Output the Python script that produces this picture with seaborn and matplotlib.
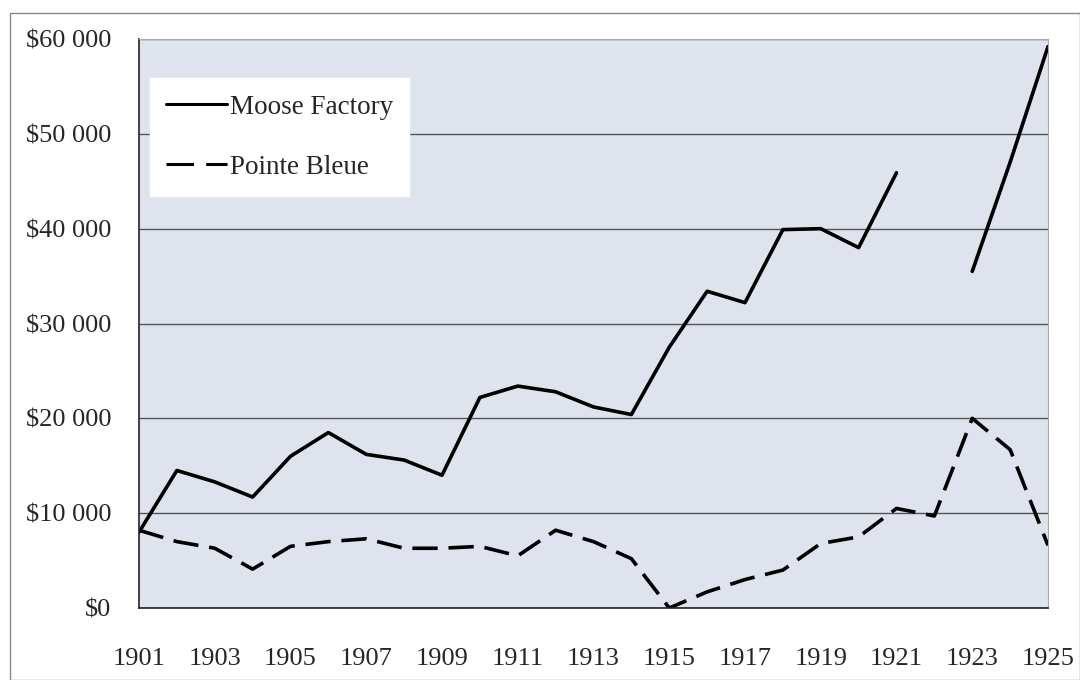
import numpy as np
import pandas as pd
import matplotlib
matplotlib.use('Agg')
import matplotlib.pyplot as plt
from matplotlib.ticker import FuncFormatter, MultipleLocator
from matplotlib.patches import Rectangle
from matplotlib.lines import Line2D
import seaborn as sns

years = list(range(1901, 1926))
moose_factory = [8000, 14500, 13300, 11700, 16000, 18500, 16200, 15600, 14000, 22200,
                 23400, 22800, 21200, 20400, 27500, 33400, 32200, 39900, 40000, 38000,
                 45900, np.nan, 35500, 47000, 59200]
pointe_bleue = [8200, 7000, 6300, 4100, 6500, 7000, 7300, 6300, 6300, 6500,
                5500, 8200, 7000, 5200, 0, 1700, 3000, 4000, 6800, 7500,
                10500, 9700, 20000, 16700, 6600]

# long form, with a segment id so the gap in 1922 stays a gap
rows = []
seg = 0
for name, vals in [('Moose Factory', moose_factory), ('Pointe Bleue', pointe_bleue)]:
    seg += 1
    for y, v in zip(years, vals):
        if np.isnan(v):
            seg += 1
            continue
        rows.append((y, v, name, seg))
df = pd.DataFrame(rows, columns=['year', 'value', 'series', 'segment'])

sns.set_style('white')
plt.rcParams['font.family'] = ['Liberation Serif', 'DejaVu Serif']
plt.rcParams['font.size'] = 19

fig = plt.figure(figsize=(10.8, 6.8), dpi=100)
ax = fig.add_axes([139 / 1080, 1 - 608 / 680, (1048 - 139) / 1080, (608 - 39) / 680])
ax.set_facecolor('#dee3ed')

sns.lineplot(data=df, x='year', y='value', style='series', units='segment',
             estimator=None, color='black', linewidth=2.6,
             dashes={'Moose Factory': '', 'Pointe Bleue': (7, 3)},
             legend=False, ax=ax)

ax.set_xlim(1901, 1925)
ax.set_ylim(0, 60000)
ax.yaxis.set_major_locator(MultipleLocator(10000))
ax.yaxis.set_major_formatter(FuncFormatter(
    lambda v, p: '$0' if v == 0 else '$' + format(int(v), ',').replace(',', ' ')))
ax.set_xticks(years)
ax.set_xticklabels([str(y) if (y - 1901) % 2 == 0 else '' for y in years])
ax.grid(axis='y', color='#555555', linewidth=1.0)
ax.set_axisbelow(True)
ax.tick_params(axis='both', direction='out', length=7, width=1, color='#333333',
               labelsize=19)
ax.tick_params(axis='y', pad=13)
ax.tick_params(axis='x', pad=22)
ax.set_xlabel('')
ax.set_ylabel('')
for s in ['left', 'bottom']:
    ax.spines[s].set_color('#222222')
    ax.spines[s].set_linewidth(1.2)
for s in ['top', 'right']:
    ax.spines[s].set_color('#aaaaaa')
    ax.spines[s].set_linewidth(0.8)

handles = [Line2D([], [], color='black', linewidth=2.2),
           Line2D([], [], color='black', linewidth=2.2, dashes=(9, 4))]
leg = ax.legend(handles, ['Moose Factory', 'Pointe Bleue'], loc='upper left',
                bbox_to_anchor=(0.012, 0.931), borderaxespad=0, frameon=True,
                fancybox=False, framealpha=1.0, handlelength=2.25,
                handletextpad=0.1, labelspacing=1.3, borderpad=0.6,
                fontsize=19.5)
leg.get_frame().set_facecolor('white')
leg.get_frame().set_edgecolor('white')

fig.patches.append(Rectangle((10 / 1080, 0.0), 1 - 10 / 1080, 1 - 13 / 680,
                             transform=fig.transFigure, fill=False,
                             edgecolor='#888888', linewidth=1.0))

fig.savefig('out.png', dpi=100)
